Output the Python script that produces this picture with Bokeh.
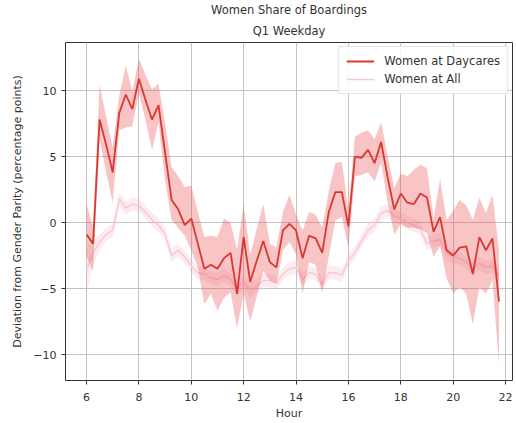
from bokeh.plotting import figure
from bokeh.models import Title, Legend, LegendItem, Range1d, FixedTicker
from bokeh.embed import file_html
from bokeh.resources import INLINE

hours = [6.0, 6.25, 6.5, 6.75, 7.0, 7.25, 7.5, 7.75,
         8.0, 8.25, 8.5, 8.75, 9.0, 9.25, 9.5, 9.75,
         10.0, 10.25, 10.5, 10.75, 11.0, 11.25, 11.5, 11.75,
         12.0, 12.25, 12.5, 12.75, 13.0, 13.25, 13.5, 13.75,
         14.0, 14.25, 14.5, 14.75, 15.0, 15.25, 15.5, 15.75,
         16.0, 16.25, 16.5, 16.75, 17.0, 17.25, 17.5, 17.75,
         18.0, 18.25, 18.5, 18.75, 19.0, 19.25, 19.5, 19.75,
         20.0, 20.25, 20.5, 20.75, 21.0, 21.25, 21.5, 21.75]

daycare_mid = [-0.9, -1.6, 7.8, 5.9, 3.8, 8.3, 9.7, 8.6,
               10.9, 9.3, 7.8, 8.9, 5.3, 1.7, 1.0, -0.2,
               0.3, -1.6, -3.5, -3.2, -3.5, -2.7, -2.3, -5.4,
               -1.1, -4.5, -2.9, -1.4, -3.0, -3.4, -0.6, -0.1,
               -0.6, -2.7, -1.0, -1.2, -2.3, 0.8, 2.3, 2.3,
               -0.3, 5.0, 4.9, 5.5, 4.5, 6.1, 3.4, 1.0,
               2.2, 1.5, 1.4, 2.2, 1.9, -0.7, 0.4, -2.1,
               -2.5, -1.9, -1.8, -3.9, -1.1, -2.1, -1.2, -6.0]
daycare_hi = [1.4, -0.3, 10.4, 8.0, 5.7, 9.6, 11.9, 9.9,
              12.4, 11.2, 10.1, 10.5, 7.5, 4.2, 3.5, 2.7,
              2.8, 0.8, -1.1, -1.0, -1.1, 0.3, 0.0, -2.1,
              1.4, -2.4, -0.5, 1.4, -1.6, -1.9, 0.8, 2.1,
              0.6, -0.6, 0.8, 0.6, -0.4, 2.4, 4.5, 4.6,
              0.9, 6.5, 6.8, 7.0, 6.3, 7.6, 5.0, 2.6,
              3.7, 3.5, 4.0, 4.4, 4.1, 0.3, 3.3, 0.2,
              0.9, 1.7, 1.3, 0.2, 1.9, 0.7, 2.1, -2.1]
daycare_lo = [-2.6, -3.7, 6.3, 3.8, 1.5, 7.0, 7.2, 7.3,
              9.8, 7.8, 5.5, 7.6, 3.2, 0.2, -0.4, -1.0,
              -2.1, -3.4, -6.2, -5.4, -6.7, -5.7, -5.3, -8.0,
              -5.4, -7.5, -5.6, -3.7, -4.4, -4.6, -2.1, -1.5,
              -2.4, -5.4, -3.0, -3.2, -5.3, -2.6, 0.2, 0.4,
              -1.9, 3.5, 3.6, 3.8, 3.1, 4.5, 1.5, -0.9,
              -0.1, -0.4, -0.4, -0.5, -0.8, -2.6, -1.8, -4.2,
              -5.4, -4.9, -5.4, -7.7, -4.9, -5.4, -4.4, -10.8]

all_mid = [-3.6, -2.3, -1.5, -0.9, -0.6, 1.8, 1.1, 1.4,
           1.3, 0.8, 0.2, -0.2, -0.9, -2.5, -2.1, -2.6,
           -3.3, -3.8, -3.9, -4.2, -4.3, -4.0, -4.3, -5.0,
           -4.5, -5.1, -4.8, -4.4, -4.4, -4.6, -3.9, -3.5,
           -3.4, -4.3, -3.8, -3.9, -4.7, -3.8, -3.8, -4.0,
           -2.9, -2.3, -1.4, -0.6, -0.2, 0.7, 0.9, 0.5,
           0.3, 0.0, -0.2, -0.5, -1.6, -1.4, -1.3, -2.3,
           -2.6, -2.7, -3.0, -3.5, -3.1, -3.4, -3.3, -4.0]
all_lo = [-5.4, -3.2, -2.1, -1.4, -1.1, 1.2, 0.6, 0.9,
          0.8, 0.3, -0.3, -0.7, -1.4, -3.0, -2.6, -3.1,
          -3.8, -4.3, -4.4, -4.7, -4.8, -4.5, -4.8, -5.6,
          -5.0, -5.7, -5.3, -4.9, -4.9, -5.1, -4.4, -4.0,
          -3.9, -4.8, -4.3, -4.4, -5.2, -4.3, -4.3, -4.5,
          -3.4, -2.8, -1.9, -1.1, -0.7, 0.2, 0.4, 0.0,
          -0.2, -0.5, -0.7, -1.0, -2.1, -1.9, -1.8, -2.8,
          -3.1, -3.2, -3.5, -4.0, -3.6, -3.9, -3.8, -4.8]
all_hi = [-1.8, -1.4, -0.9, -0.4, -0.1, 2.3, 1.6, 1.9,
          1.8, 1.3, 0.7, 0.3, -0.4, -2.0, -1.6, -2.1,
          -2.8, -3.3, -3.4, -3.7, -3.8, -3.5, -3.8, -4.4,
          -4.0, -4.5, -4.3, -3.9, -3.9, -4.1, -3.4, -3.0,
          -2.9, -3.8, -3.3, -3.4, -4.2, -3.3, -3.3, -3.5,
          -2.4, -1.8, -0.9, -0.1, 0.3, 1.2, 1.4, 1.0,
          0.8, 0.5, 0.3, 0.0, -1.1, -0.9, -0.8, -1.8,
          -2.1, -2.2, -2.5, -3.0, -2.6, -2.9, -2.8, -3.2]

x_ticks = [6, 8, 10, 12, 14, 16, 18, 20, 22]
y_ticks = [-10, -5, 0, 5, 10]
y_tick_labels = {-10: "\u221210", -5: "\u22125", 0: "0", 5: "5", 10: "10"}

FONT = "DejaVu Sans"
TXT = "#333333"

p = figure(width=516, height=423, output_backend="svg", toolbar_location=None,
           x_range=Range1d(5.198, 22.265), y_range=Range1d(-11.97, 13.64),
           min_border_left=65, min_border_right=4, min_border_bottom=43,
           min_border_top=42, title_location=None)
p.background_fill_color = "white"
p.border_fill_color = "white"
p.outline_line_color = "#333333"
p.outline_line_width = 1

# bands and lines
p.varea(x=hours, y1=all_lo, y2=all_hi, fill_color="#f7a8b8", fill_alpha=0.22)
r_all = p.line(hours, all_mid, line_color="#f8c9d3", line_width=1.5)
p.varea(x=hours, y1=daycare_lo, y2=daycare_hi, fill_color="#e8474a", fill_alpha=0.32)
r_day = p.line(hours, daycare_mid, line_color="#d9382f", line_width=1.8)

# axes
for ax in (p.xaxis[0], p.yaxis[0]):
    ax.axis_line_color = None
    ax.major_tick_out = 4
    ax.major_tick_in = 0
    ax.major_tick_line_color = "#333333"
    ax.minor_tick_line_color = None
    ax.major_label_text_font = FONT
    ax.major_label_text_font_size = "11px"
    ax.major_label_text_color = TXT
    ax.axis_label_text_font = FONT
    ax.axis_label_text_font_size = "11px"
    ax.axis_label_text_font_style = "normal"
    ax.axis_label_text_color = TXT

p.xaxis[0].ticker = FixedTicker(ticks=x_ticks)
p.yaxis[0].ticker = FixedTicker(ticks=y_ticks)
p.yaxis[0].major_label_overrides = y_tick_labels
p.xaxis[0].axis_label = "Hour"
p.yaxis[0].axis_label = "Deviation from Gender Parity (percentage points)"
p.xaxis[0].major_label_standoff = 8
p.xaxis[0].axis_label_standoff = 3
p.yaxis[0].major_label_standoff = 5
p.yaxis[0].axis_label_standoff = 6

p.grid.grid_line_color = "#c4c4c4"
p.grid.grid_line_width = 1

# titles
p.add_layout(Title(text="Q1 Weekday", align="center", text_font=FONT,
                   text_font_size="11.5px", text_font_style="normal",
                   text_color=TXT, standoff=9), "above")
p.add_layout(Title(text="Women Share of Boardings", align="center", text_font=FONT,
                   text_font_size="11.5px", text_font_style="normal",
                   text_color=TXT, standoff=1), "above")

legend = Legend(items=[LegendItem(label="Women at Daycares", renderers=[r_day]),
                       LegendItem(label="Women at All", renderers=[r_all])],
                location="top_right")
legend.label_text_font = FONT
legend.label_text_font_size = "11.5px"
legend.label_text_color = TXT
legend.border_line_color = "#cccccc"
legend.background_fill_alpha = 0.85
legend.glyph_width = 28
legend.glyph_height = 14
legend.label_standoff = 10
legend.spacing = 4
legend.padding = 7
legend.margin = 4
p.add_layout(legend)

open("out.html", "w").write(file_html(p, INLINE))
